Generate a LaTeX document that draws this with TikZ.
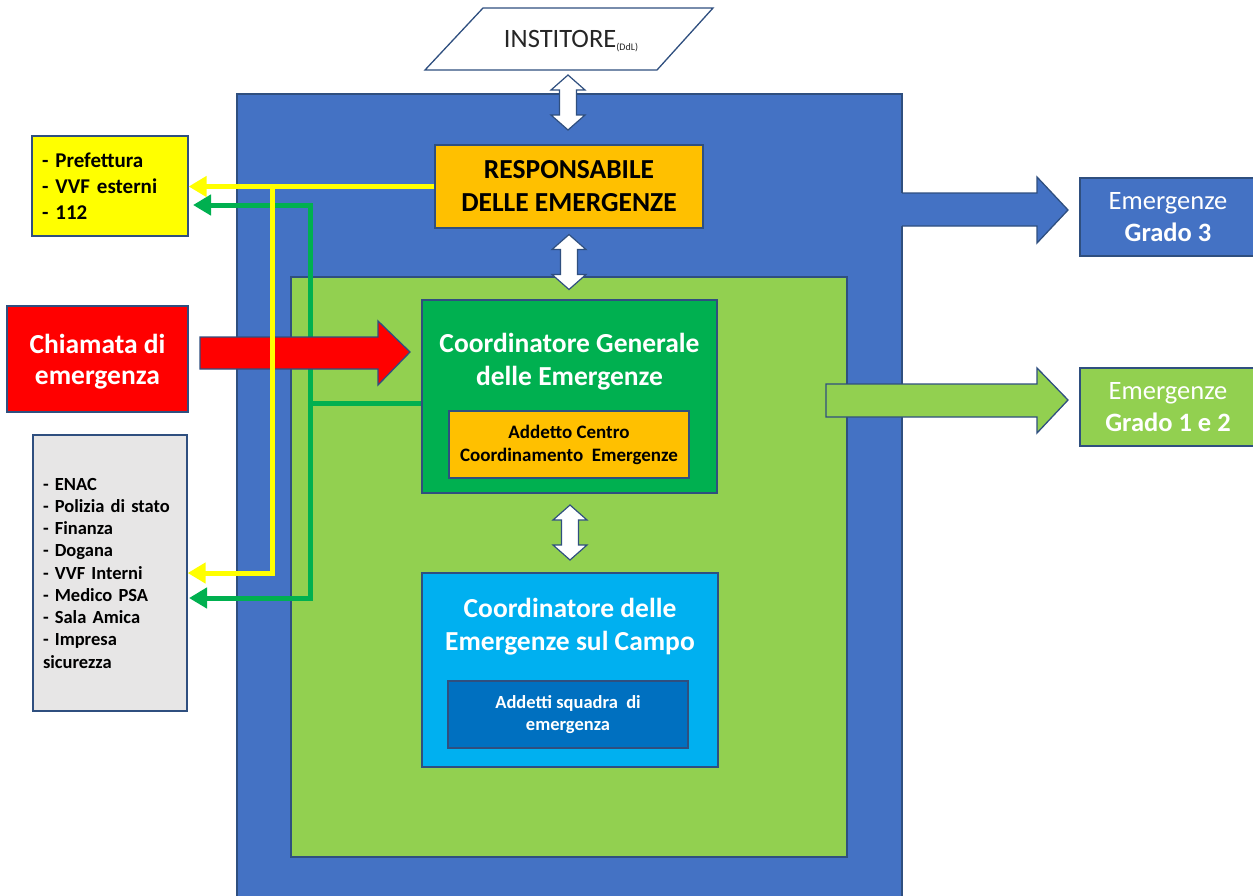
\documentclass[tikz,border=0pt]{standalone}
\usepackage{fontspec}
\setmainfont{Carlito}
\usetikzlibrary{arrows.meta}
\definecolor{blueC}{HTML}{4472C4}
\definecolor{greenL}{HTML}{92D050}
\definecolor{greenD}{HTML}{00B050}
\definecolor{orangeC}{HTML}{FFC000}
\definecolor{cyanC}{HTML}{00B0F0}
\definecolor{dblueC}{HTML}{0070C0}
\definecolor{grayC}{HTML}{E7E6E6}
\definecolor{yellowC}{HTML}{FFFF00}
\definecolor{redC}{HTML}{FF0000}
\definecolor{bordc}{HTML}{2F4F7F}
\definecolor{txtgray}{HTML}{262626}
\begin{document}
\begin{tikzpicture}[x=1pt,y=-1pt,
  box/.style={draw=bordc, line width=1.3pt, rectangle, inner sep=0pt, align=center},
  bigb/.style={font=\fontsize{27.5}{33}\selectfont\bfseries},
  smallb/.style={font=\fontsize{19}{23}\selectfont\bfseries},
  emtxt/.style={font=\fontsize{26.5}{32}\selectfont, text=white},
  listb/.style={box, align=left, inner xsep=10pt},
  yline/.style={draw=yellowC, line width=5pt, -{Triangle[length=18pt,width=20pt]}},
  gline/.style={draw=greenD, line width=5pt, -{Triangle[length=18pt,width=20pt]}},
  blockarr/.style={draw=bordc, line width=1.3pt, line join=miter},
  vdarr/.pic={\filldraw[fill=white, draw=bordc, line width=1.2pt]
    (0,-27.5) -- (17,-12.5) -- (8.5,-12.5) -- (8.5,12.5) -- (17,12.5) -- (0,27.5)
    -- (-17,12.5) -- (-8.5,12.5) -- (-8.5,-12.5) -- (-17,-12.5) -- cycle;}
]
\useasboundingbox (0,0) rectangle (1253,895);

% outer containers
\node[box, fill=blueC, minimum width=665pt, minimum height=806pt] (outer) at (569.5,497) {};
\node[box, fill=greenL, minimum width=556pt, minimum height=580pt] (inner) at (569,567) {};

% INSTITORE
\filldraw[fill=white, draw=bordc, line width=1.3pt] (483,8) -- (713,8) -- (657,70) -- (425,70) -- cycle;
\node[font=\fontsize{26.5}{30}\selectfont, text=txtgray, inner sep=0pt] (inst) at (571,41)
  {INSTITORE\raisebox{-3pt}{\fontsize{10}{12}\selectfont(DdL)}};

% double arrows
\pic at (568,102.5) {vdarr};
\pic at (569,262) {vdarr};
\pic at (570,532.5) {vdarr};

% main boxes
\node[box, fill=orangeC, minimum width=268pt, minimum height=83pt, bigb] (resp) at (569,186.5)
  {RESPONSABILE\\DELLE EMERGENZE};

\node[box, fill=greenD, minimum width=295pt, minimum height=193pt] (cg) at (569.5,396.5) {};
\node[bigb, text=white, align=center, inner sep=0pt] (cgt) at (569.5,362)
  {Coordinatore Generale\\delle Emergenze};
\node[box, fill=orangeC, minimum width=240pt, minimum height=67pt, smallb] (acc) at (569,444.5)
  {Addetto Centro\\Coordinamento\ \ Emergenze};

\node[box, fill=cyanC, minimum width=296pt, minimum height=194pt] (cec) at (570,670) {};
\node[bigb, text=white, align=center, inner sep=0pt] (cect) at (570,627)
  {Coordinatore delle\\Emergenze sul Campo};
\node[box, fill=dblueC, minimum width=240pt, minimum height=67pt, smallb, text=white,
  font=\fontsize{18.5}{22}\selectfont\bfseries] (asq) at (568,714.5)
  {Addetti squadra\ \ di\\emergenza};

% left boxes
\node[listb, fill=yellowC, minimum width=156pt, minimum height=100pt, text width=136pt,
  font=\fontsize{21}{26}\selectfont\bfseries] (yb) at (110,186)
  {- Prefettura\\- VVF esterni\\- 112};
\node[box, fill=redC, minimum width=181pt, minimum height=106pt] (call) at (97.5,359) {};
\node[text=white, align=center, inner sep=0pt,
  font=\fontsize{27.5}{31}\selectfont\bfseries] (callt) at (97.5,362)
  {Chiamata di\\emergenza};
\node[listb, fill=grayC, minimum width=154pt, minimum height=276pt, text width=134pt,
  font=\fontsize{18.5}{22.25}\selectfont\bfseries] (gray) at (110,573)
  {- ENAC\\- Polizia di stato\\- Finanza\\- Dogana\\- VVF Interni\\- Medico PSA\\- Sala Amica\\- Impresa\\sicurezza};

% right boxes
\node[box, fill=blueC, minimum width=176pt, minimum height=78pt, emtxt] (em3) at (1168,217)
  {Emergenze\\\textbf{Grado 3}};
\node[box, fill=greenL, minimum width=176pt, minimum height=78pt, emtxt] (em12) at (1168,407)
  {Emergenze\\\textbf{Grado 1 e 2}};

% block arrows to the right
\fill[blueC] (900,193) -- (1037,193) -- (1037,177) -- (1068,210) -- (1037,243) -- (1037,226) -- (900,226) -- cycle;
\draw[blockarr] (902,193) -- (1037,193) -- (1037,177) -- (1068,210) -- (1037,243) -- (1037,226) -- (902,226);
\filldraw[fill=greenL, blockarr] (826,384) -- (1037,384) -- (1037,368) -- (1068,400) -- (1037,433) -- (1037,417) -- (826,417) -- cycle;

% green connectors
\coordinate (gj) at (310,403);
\coordinate (gt) at (193,205);
\coordinate (gb) at (189,598);
\draw[greenD, line width=5pt] (cg.west |- gj) -- (gj);
\draw[gline] (gj) |- (gt);
\draw[gline] (gj) |- (gb);

% red call arrow
\filldraw[fill=redC, blockarr] (200,337) -- (378,337) -- (378,321) -- (410,352) -- (378,385) -- (378,369) -- (200,369) -- cycle;

% yellow connectors
\coordinate (yj) at (272,186.5);
\draw[yline] (resp.west) -- (yb.east |- resp.west);
\draw[draw=yellowC, line width=5pt] (yj) -- ++(0,10);
\draw[yline] (yj) |- (gray.east |- 0,573);

\end{tikzpicture}
\end{document}
